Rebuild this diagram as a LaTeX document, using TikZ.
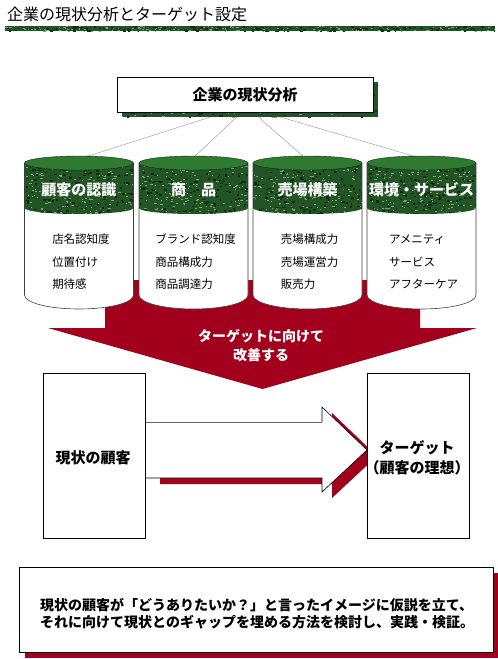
\documentclass[tikz,border=0pt]{standalone}
\usepackage{fontspec}
\setmainfont{Noto Sans CJK JP}
\definecolor{grnDark}{RGB}{34,84,38}
\definecolor{grnTop}{RGB}{46,122,48}
\definecolor{grnSpeck}{RGB}{125,165,118}
\definecolor{grnDeep}{RGB}{14,46,18}
\definecolor{redA}{RGB}{163,0,30}
\tikzset{
  cylbody/.style={fill=white},
  cylline/.style={draw=black!75,line width=0.6pt},
  cylhead/.style={text=white,font=\bfseries\fontsize{15}{15}\selectfont,inner sep=0pt},
  cylitems/.style={align=left,font=\fontsize{11.5}{22.5}\selectfont,inner sep=0pt},
  linkline/.style={draw=black!35,line width=0.5pt},
  plainbox/.style={draw=black,line width=0.7pt,fill=white,inner sep=0pt},
  boxtext/.style={font=\bfseries\fontsize{15}{20}\selectfont,align=center},
}
\newcommand\texturefill[5]{%
  \foreach \k in {1,...,#5}{%
    \pgfmathsetmacro\px{#1+rnd*(#3-#1)}%
    \pgfmathsetmacro\py{#2+rnd*(#4-#2)}%
    \pgfmathsetmacro\pw{0.8+rnd*2}%
    \fill[grnSpeck] (\px,\py) rectangle ++(\pw,1);
  }%
  \foreach \k in {1,...,#5}{%
    \pgfmathsetmacro\px{#1+rnd*(#3-#1)}%
    \pgfmathsetmacro\py{#2+rnd*(#4-#2)}%
    \pgfmathsetmacro\pw{1+rnd*2.5}%
    \fill[grnDeep] (\px,\py) rectangle ++(\pw,1.5);
  }%
}
\newcommand\cylshape[4]{%
  \pgfmathsetmacro\xl{#1-54.5}\pgfmathsetmacro\xr{#1+54.5}%
  \fill[cylbody] (\xl,163) -- (\xl,295) arc[start angle=180,end angle=0,x radius=54.5,y radius=14] -- (\xr,163) -- cycle;
  \begin{scope}
    \clip (\xl,163) -- (\xl,208) arc[start angle=180,end angle=0,x radius=54.5,y radius=6] -- (\xr,163) -- cycle;
    \fill[grnDark] (\xl,150) rectangle (\xr,220);
    \texturefill{\xl}{163}{\xr}{214}{170}
  \end{scope}
  \draw[cylline] (\xl,163) -- (\xl,295) arc[start angle=180,end angle=0,x radius=54.5,y radius=14] -- (\xr,163);
  \filldraw[fill=grnTop,draw=grnDeep,line width=0.4pt] (#1,163) ellipse[x radius=54.5,y radius=7];
  \node[cylhead] (#2) at (#1,190) {#3};
  \node[cylitems] (#2items) at (#1+2,262) {#4};
}
\begin{document}
\begin{tikzpicture}[x=1pt,y=-1pt]
\pgfmathsetseed{7}
\useasboundingbox (0,0) rectangle (498,659);
\fill[white] (0,0) rectangle (498,659);
% title
\node[anchor=west,inner sep=0pt,font=\fontsize{16}{16}\selectfont] (title) at (7,14) {企業の現状分析とターゲット設定};
\fill[grnDark] (5,26) rectangle (495,31);
\begin{scope}
  \clip (5,26) rectangle (495,31);
  \texturefill{5}{26}{495}{31}{160}
\end{scope}
% connector lines
\coordinate (s1) at (220,114);
\coordinate (s2) at (240,114);
\coordinate (s3) at (255,114);
\coordinate (s4) at (270,114);
\coordinate (t1) at (82,158);
\coordinate (t2) at (193,158);
\coordinate (t3) at (305,158);
\coordinate (t4) at (420,158);
\draw[linkline] (s1) -- (t1);
\draw[linkline] (s2) -- (t2);
\draw[linkline] (s3) -- (t3);
\draw[linkline] (s4) -- (t4);
% top box with green shadow
\fill[grnDark] (122,82) rectangle (378,117);
\begin{scope}
  \clip (122,82) rectangle (378,117);
  \texturefill{122}{82}{378}{117}{90}
\end{scope}
\node[plainbox,minimum width=256pt,minimum height=35pt,font=\bfseries\fontsize{15}{15}\selectfont] (topbox) at (245,94.5) {企業の現状分析};
% red chevron
\fill[redA] (105,280) -- (420,280) -- (420,328) -- (477,328) -- (262.5,389) -- (48,328) -- (105,328) -- cycle;
\node[text=white,font=\bfseries\fontsize{14}{19}\selectfont,align=center,inner sep=0pt] (chevtext) at (261,346) {ターゲットに向けて\\改善する};
% cylinders
\cylshape{79}{c1}{顧客の認識}{店名認知度\\位置付け\\期待感}
\cylshape{193.5}{c2}{商　品}{ブランド認知度\\商品構成力\\商品調達力}
\cylshape{307.5}{c3}{売場構築}{売場構成力\\売場運営力\\販売力}
\cylshape{421.5}{c4}{環境・サービス}{アメニティ\\サービス\\アフターケア}
% big horizontal arrow
\coordinate (atail) at (145,450);
\coordinate (atip) at (367,450);
\fill[redA,shift={(10,6)}] (150,422) -- (322,422) -- (322,407) -- (367,450) -- (322,492) -- (322,478) -- (150,478) -- cycle;
\fill[white] (145,422) -- (322,422) -- (322,407) -- (atip) -- (322,492) -- (322,478) -- (145,478) -- cycle;
\draw[black!60,line width=0.6pt] (atail |- 0,422) -- (322,422);
\draw[black,line width=0.6pt] (322,422) -- (322,407) -- (atip) -- (322,492) -- (322,478) -- (atail |- 0,478);
% boxes
\node[plainbox,minimum width=102pt,minimum height=165pt] (leftbox) at (94,455.5) {};
\node[boxtext] (lefttext) at (93,458) {現状の顧客};
\node[plainbox,minimum width=102pt,minimum height=165pt] (rightbox) at (418,455.5) {};
\node[boxtext] (righttext) at (417,458) {ターゲット\\（顧客の理想）};
% bottom note
\fill[redA] (25,573) rectangle (498,658);
\node[plainbox,minimum width=474pt,minimum height=85pt] (note) at (256,609.5) {};
\node[anchor=west,align=left,inner sep=0pt,font=\bfseries\fontsize{14}{17}\selectfont] (notetext) at (40,614) {現状の顧客が「どうありたいか？」と言ったイメージに仮説を立て、\\それに向けて現状とのギャップを埋める方法を検討し、実践・検証。};
\end{tikzpicture}
\end{document}
